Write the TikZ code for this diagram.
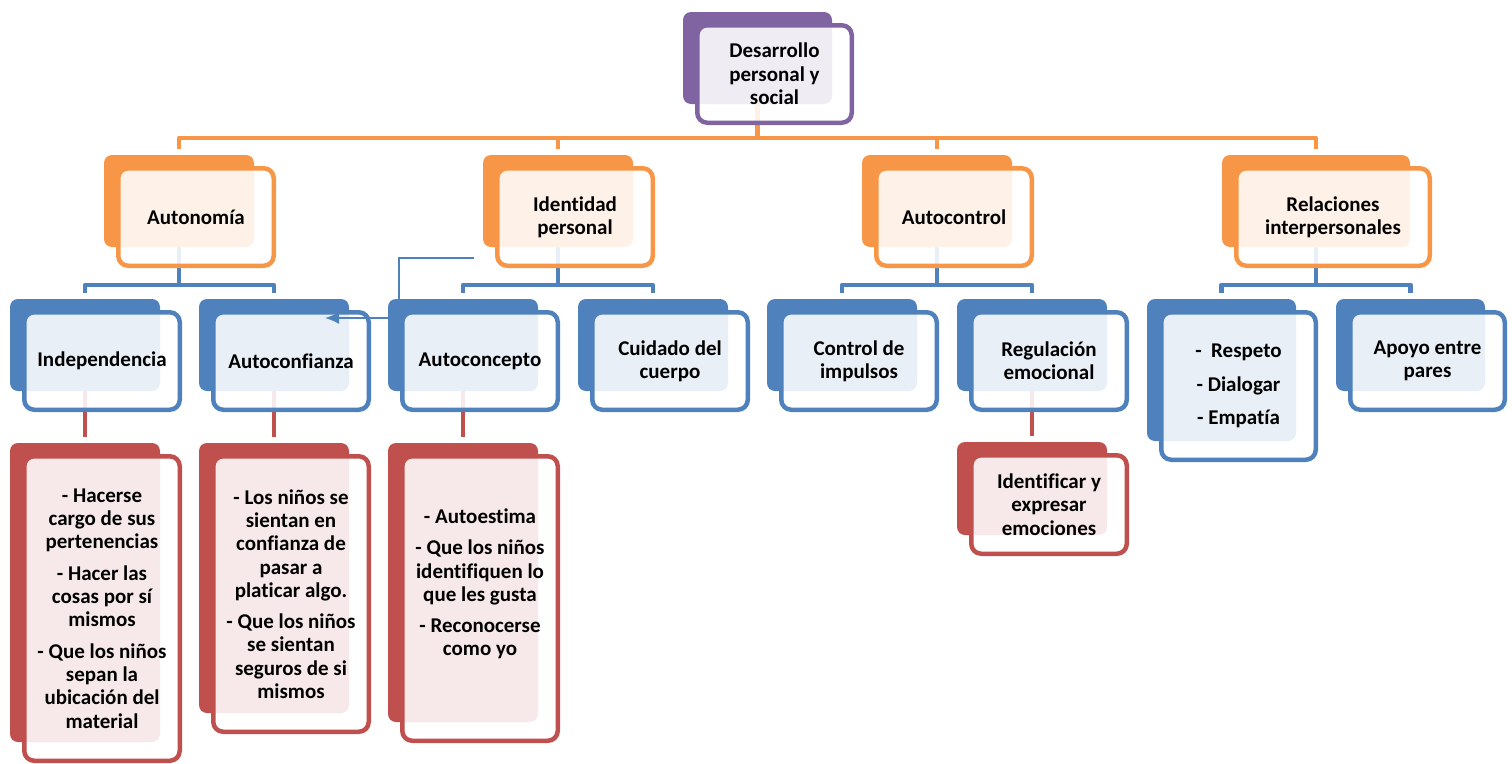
\documentclass[tikz,border=0pt]{standalone}
\usepackage{fontspec}
\setmainfont{Carlito}[Ligatures=CommonOff,RawFeature={-liga;-dlig;-clig}]
\usetikzlibrary{arrows.meta}
\pgfdeclarelayer{background}
\pgfsetlayers{background,main}
\definecolor{cpurple}{HTML}{8064A2}
\definecolor{corange}{HTML}{F79646}
\definecolor{cblue}{HTML}{4F81BD}
\definecolor{cred}{HTML}{C0504D}
\tikzset{
  backbox/.style={draw=none,rounded corners=8pt,inner sep=0pt},
  frontbox/.style={fill=white,fill opacity=0.88,text opacity=1,line width=4.5pt,
    rounded corners=10pt,inner sep=0pt,align=center,text=black,
    font=\fontsize{21}{23.3}\selectfont\bfseries},
  con/.style={line width=4.3pt,line join=round,shorten >=6pt},
  arr/.style={line width=1.6pt,draw=cblue,-{Latex[length=14pt,width=12pt]}}
}
\newcommand\hnode[7]{%
  \node[backbox,fill=#2,minimum width={#5-#3},minimum height={#6-#4}] (b#1) at ({(#3+#5)/2},{(#4+#6)/2}) {};
  \node[frontbox,draw=#2,minimum width={#5-#3+10-4.5},minimum height={#6-#4+10-4.5}] (#1) at ({(#3+#5)/2+17},{(#4+#6)/2+16}) {#7};
}
\begin{document}
\begin{tikzpicture}[x=1pt,y=-1pt]
\useasboundingbox (0,0) rectangle (1512,763);
% level 1
\hnode{Top}{cpurple}{683}{12}{832}{104}{Desarrollo\\personal y\\social}
% level 2
\hnode{Aut}{corange}{104}{155}{254}{247}{Autonomía}
\hnode{Ide}{corange}{483}{155}{633}{247}{Identidad\\personal}
\hnode{Act}{corange}{862}{155}{1012}{247}{Autocontrol}
\hnode{Rel}{corange}{1222}{155}{1410}{247}{Relaciones\\interpersonales}
% level 3
\hnode{Ind}{cblue}{10}{299}{160}{391}{Independencia}
\hnode{Acf}{cblue}{199}{299}{349}{391}{Autoconfianza}
\hnode{Acp}{cblue}{388}{299}{538}{391}{Autoconcepto}
\hnode{Cui}{cblue}{578}{299}{728}{391}{Cuidado del\\cuerpo}
\hnode{Ctl}{cblue}{767}{299}{917}{391}{Control de\\impulsos}
\hnode{Reg}{cblue}{957}{299}{1107}{391}{Regulación\\emocional}
\hnode{Res}{cblue}{1147}{299}{1296}{441}{-\ \ Respeto\\[10pt]- Dialogar\\[10pt]- Empatía}
\hnode{Apo}{cblue}{1336}{299}{1485}{391}{Apoyo entre\\pares}
% level 4
\hnode{Hac}{cred}{10}{443}{160}{742}{- Hacerse\\cargo de sus\\pertenencias\\[8pt]- Hacer las\\cosas por sí\\mismos\\[8pt]- Que los niños\\sepan la\\ubicación del\\material}
\hnode{Nin}{cred}{199}{443}{349}{713}{- Los niños se\\sientan en\\confianza de\\pasar a\\platicar algo.\\[8pt]- Que los niños\\se sientan\\seguros de si\\mismos}
\hnode{Aes}{cred}{388}{443}{538}{722}{- Autoestima\\[8pt]- Que los niños\\identifiquen lo\\que les gusta\\[8pt]- Reconocerse\\como yo\\[9pt]\mbox{}}
\hnode{Idf}{cred}{957}{442}{1107}{535}{Identificar y\\expresar\\emociones}
% connectors
\begin{pgfonlayer}{background}
\foreach \c in {Aut,Ide,Act,Rel}
  \draw[con,draw=corange] (bTop.south) -- (bTop.south |- 0,138) -| (b\c.north);
\foreach \p/\c in {Aut/Ind,Aut/Acf,Ide/Acp,Ide/Cui,Act/Ctl,Act/Reg,Rel/Res,Rel/Apo}
  \draw[con,draw=cblue] (b\p.south) -- (b\p.south |- 0,285) -| (b\c.north);
\foreach \p/\c in {Ind/Hac,Acf/Nin,Acp/Aes,Reg/Idf}
  \draw[con,draw=cred] (b\p.south) -- (b\c.north);
\end{pgfonlayer}
% loose arrow
\coordinate (arrS) at (474,258);
\coordinate (arrK) at (399,318);
\coordinate (arrE) at (325,318);
\draw[arr] (arrS) -| (arrK) -- (arrE);
\end{tikzpicture}
\end{document}
